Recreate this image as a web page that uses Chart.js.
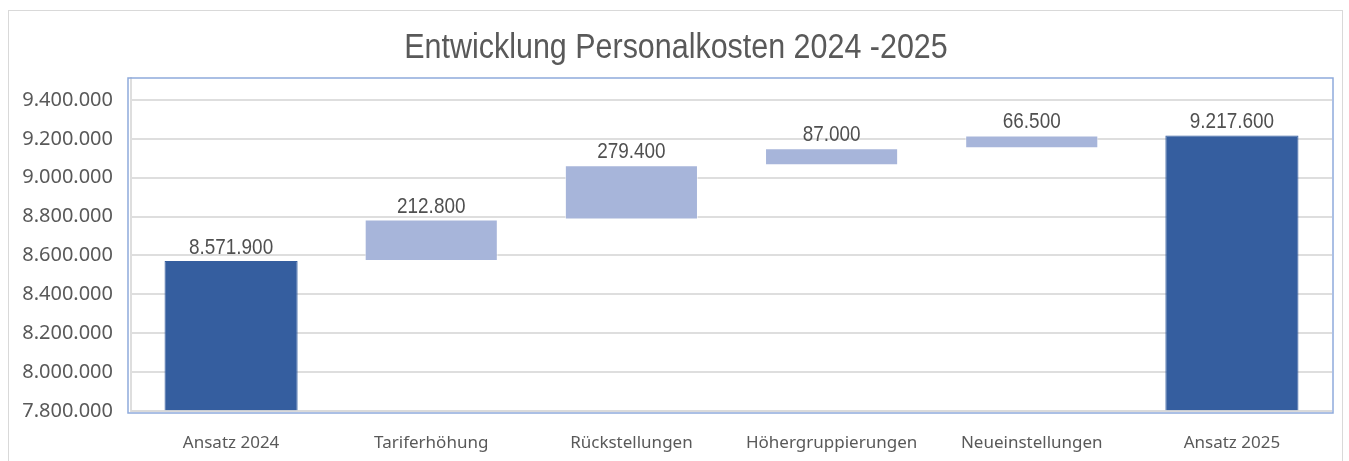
<!DOCTYPE html>
<html>
<head>
<meta charset="utf-8">
<script src="https://cdn.jsdelivr.net/npm/chart.js@4/dist/chart.umd.min.js"></script>
<style>
  html, body { margin: 0; padding: 0; background: #fff; }
  #wrap { width: 1349px; height: 461px; }
</style>
</head>
<body>
<div id="wrap"><canvas id="c" width="1349" height="461"></canvas></div>
<script>
// ---- data ----
const chartTitle = 'Entwicklung Personalkosten 2024 -2025';
const categories = ['Ansatz 2024', 'Tariferhöhung', 'Rückstellungen', 'Höhergruppierungen', 'Neueinstellungen', 'Ansatz 2025'];
const barStart = [0, 8571900, 8784700, 9064100, 9151100, 0];
const barEnd = [8571900, 8784700, 9064100, 9151100, 9217600, 9217600];
const labelValues = [8571900, 212800, 279400, 87000, 66500, 9217600];
const isTotal = [true, false, false, false, false, true];
const yTicks = [7800000, 8000000, 8200000, 8400000, 8600000, 8800000, 9000000, 9200000, 9400000];
const yMin = 7800000;
const yMax = 9513000;

const fmt = v => String(Math.round(v)).replace(/\B(?=(\d{3})+(?!\d))/g, '.');

const DARK = '#355E9F';
const LIGHT = '#A7B5DA';
const TEXT = '#595959';

const decor = {
  id: 'decor',
  beforeDraw(chart) {
    const c = chart.ctx;
    c.save();
    c.fillStyle = '#ffffff';
    c.fillRect(0, 0, chart.width, chart.height);
    c.strokeStyle = '#d9d9d9';
    c.lineWidth = 1;
    c.strokeRect(8.5, 10.5, 1334, 480);
    c.restore();
  },
  afterDatasetsDraw(chart) {
    const c = chart.ctx;
    const a = chart.chartArea;
    const ys = chart.scales.y;
    const meta = chart.getDatasetMeta(0);
    c.save();
    // axis line over bars
    c.strokeStyle = 'rgba(217,217,217,0.9)';
    c.lineWidth = 2;
    c.beginPath();
    c.moveTo(a.left, a.bottom);
    c.lineTo(a.right, a.bottom);
    c.stroke();
    // plot area border
    c.strokeStyle = '#8FAADC';
    c.lineWidth = 1.5;
    c.strokeRect(a.left - 3, a.top, a.right - a.left + 4, a.bottom - a.top + 2);
    // title
    c.fillStyle = TEXT;
    c.font = '35px "Liberation Sans", Arial, sans-serif';
    c.textAlign = 'center';
    c.textBaseline = 'alphabetic';
    c.save();
    c.translate(676, 58);
    c.scale(0.87, 1);
    c.fillText(chartTitle, 0, 0);
    c.restore();
    // data labels
    c.fillStyle = '#505050';
    c.font = '22px "Liberation Sans", Arial, sans-serif';
    meta.data.forEach((bar, i) => {
      const y = ys.getPixelForValue(barEnd[i]) - 7;
      c.save();
      c.translate(bar.x, y);
      c.scale(0.86, 1);
      c.fillText(fmt(labelValues[i]), 0, 0);
      c.restore();
    });
    c.restore();
  }
};

new Chart(document.getElementById('c'), {
  type: 'bar',
  data: {
    labels: categories,
    datasets: [{
      data: barStart.map((s, i) => [s, barEnd[i]]),
      backgroundColor: isTotal.map(t => t ? DARK : LIGHT),
      borderColor: isTotal.map(t => t ? DARK : 'rgba(255,255,255,0.6)'),
      borderWidth: 1,
      borderSkipped: false,
      barPercentage: 0.665,
      categoryPercentage: 1.0
    }]
  },
  options: {
    responsive: false,
    animation: false,
    layout: { padding: { left: 0, right: 17, top: 78, bottom: 0 } },
    plugins: {
      legend: { display: false },
      title: { display: false },
      tooltip: { enabled: false }
    },
    scales: {
      x: {
        grid: { display: false, drawTicks: false },
        border: { display: false },
        ticks: {
          color: TEXT,
          padding: 22,
          maxRotation: 0,
          autoSkip: false,
          font: { family: '"Noto Sans", "Open Sans", sans-serif', size: 17 }
        },
        afterFit(scale) { scale.height = 50; }
      },
      y: {
        min: yMin,
        max: yMax,
        grid: { color: '#dedede', lineWidth: 2, drawTicks: false },
        border: { display: true, color: '#dedede', width: 2 },
        ticks: {
          color: TEXT,
          padding: 18,
          autoSkip: false,
          font: { family: '"Noto Sans", "Open Sans", sans-serif', size: 20 },
          callback: v => fmt(v)
        },
        afterBuildTicks(scale) {
          scale.ticks = yTicks.map(v => ({ value: v }));
        },
        afterFit(scale) { scale.width = 131; }
      }
    }
  },
  plugins: [decor]
});
</script>
</body>
</html>
